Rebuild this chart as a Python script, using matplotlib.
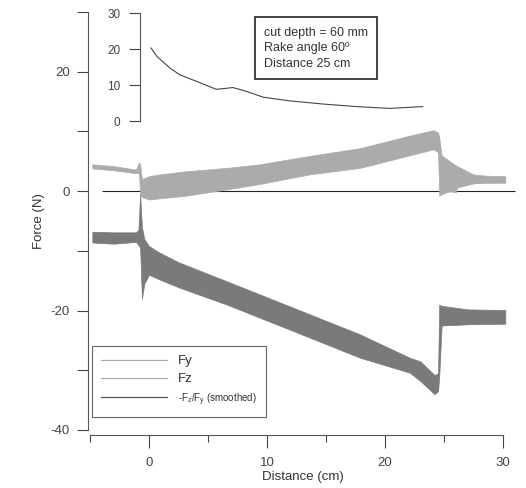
"""Cutting force traces Fy / Fz against distance, with -Fz/Fy inset."""

import matplotlib

matplotlib.use("Agg")

import matplotlib.pyplot as plt
from matplotlib.lines import Line2D

plt.rcParams["font.family"] = ["Liberation Sans", "DejaVu Sans"]
plt.rcParams["axes.unicode_minus"] = False
plt.rcParams["text.color"] = "#333333"
plt.rcParams["axes.labelcolor"] = "#333333"
plt.rcParams["xtick.color"] = "#444444"
plt.rcParams["ytick.color"] = "#444444"

# Fy trace: distance (cm), lower / upper edge of the noisy band (N)
fy_x = [-4.8, -3.0, -1.1, -0.85, -0.75, -0.6, 0.0, 0.9, 3.0, 6.6, 9.4, 13.6,
        17.9, 22.1, 24.1, 24.5, 24.6, 24.8, 25.5, 26.0, 26.1, 26.5, 27.5, 28.5, 30.2]
fy_lo = [3.8, 3.5, 3.0, 3.0, -0.5, -1.0, -1.4, -1.2, -0.8, 0.3, 1.2, 2.8,
         3.9, 6.0, 7.0, 6.5, -0.8, -0.5, 0.0, -0.2, 0.6, 0.8, 1.3, 1.4, 1.4]
fy_hi = [4.5, 4.2, 3.6, 4.8, 4.5, 2.0, 2.5, 2.8, 3.3, 3.9, 4.5, 5.9,
         7.2, 9.3, 10.2, 9.8, 9.0, 6.0, 5.0, 4.3, 4.2, 3.8, 2.8, 2.6, 2.5]

# Fz trace
fz_x = [-4.8, -3.0, -1.1, -0.9, -0.75, -0.6, -0.4, 0.0, 0.9, 2.5, 6.6, 12.2,
        17.9, 22.1, 23.0, 24.2, 24.5, 24.6, 24.8, 27.0, 30.2]
fz_lo = [-8.6, -8.8, -8.5, -9.0, -9.5, -18.0, -15.5, -14.0, -14.8, -16.1, -19.0, -23.4,
         -27.9, -30.4, -31.8, -34.0, -33.5, -31.0, -22.5, -22.3, -22.2]
fz_hi = [-6.8, -6.9, -6.9, -6.5, -0.5, -6.0, -8.0, -9.2, -10.3, -11.9, -15.1, -19.5,
         -24.0, -27.9, -28.5, -30.8, -30.5, -19.0, -19.2, -19.8, -19.9]

# inset: -Fz/Fy (smoothed)
ratio_x = [0.17, 0.65, 1.78, 2.63, 4.04, 5.7, 6.6, 7.1, 8.0, 9.7, 11.9, 14.8, 17.6, 20.4, 23.2]
ratio_y = [20.3, 18.0, 14.7, 12.8, 11.0, 8.8, 9.1, 9.3, 8.5, 6.6, 5.6, 4.7, 4.0, 3.5, 4.0]

zero_line = (-4.0, 31.0)
info_lines = ["cut depth = 60 mm", "Rake angle 60º", "Distance 25 cm"]

FY_COLOR = "#ababab"
FZ_COLOR = "#7a7a7a"

fig = plt.figure(figsize=(5.26, 4.88), dpi=100)
ax = fig.add_axes([88 / 526, 58 / 488, 429 / 526, 418 / 488])
xlim = (-5.17, 31.19)
ax.set_xlim(*xlim)
ax.set_ylim(-40, 30)

ax.hlines(0, *zero_line, color="#222222", lw=0.8, zorder=1)
ax.fill_between(fy_x, fy_lo, fy_hi, color=FY_COLOR, lw=0.5, edgecolor=FY_COLOR, zorder=2)
ax.fill_between(fz_x, fz_lo, fz_hi, color=FZ_COLOR, lw=0.5, edgecolor=FZ_COLOR, zorder=2)

for side in ("top", "right"):
    ax.spines[side].set_visible(False)
ax.spines["left"].set_bounds(-40, 30)
ax.spines["bottom"].set_bounds(-5, 30)
ax.spines["bottom"].set_position(("outward", 3.6))
for side in ("left", "bottom"):
    ax.spines[side].set_color("#555555")
    ax.spines[side].set_linewidth(0.8)

ax.set_yticks([-40, -20, 0, 20])
ax.set_yticks([-30, -10, 10, 30], minor=True)
ax.set_xticks([0, 10, 20, 30])
ax.set_xticks([-5, 5, 15, 25], minor=True)
ax.tick_params(axis="y", which="both", length=8, width=0.8, pad=5, labelsize=9.5)
ax.tick_params(axis="x", which="major", length=9, width=0.8, pad=7, labelsize=9.5)
ax.tick_params(axis="x", which="minor", length=5, width=0.8)
ax.set_xlabel("Distance (cm)", fontsize=9.5, labelpad=1)
ax.set_ylabel("Force (N)", fontsize=9.5, labelpad=4)

handles = [
    Line2D([], [], color=FY_COLOR, lw=0.9),
    Line2D([], [], color=FY_COLOR, lw=0.9),
    Line2D([], [], color="#555555", lw=0.9),
]
labels = ["Fy", "Fz", r"-F$_\mathregular{z}$/F$_\mathregular{y}$ (smoothed)"]
leg = ax.legend(handles, labels, loc="lower left", bbox_to_anchor=(0.0093, 0.031),
                borderaxespad=0, fontsize=9.5, handlelength=5.0, labelspacing=0.45,
                fancybox=False, framealpha=1, edgecolor="#666666", borderpad=0.7)
leg.get_frame().set_linewidth(0.8)
leg.get_texts()[2].set_fontsize(7)

ax.text(0.41, 0.965, "\n".join(info_lines), transform=ax.transAxes, fontsize=9,
        va="top", ha="left", linespacing=1.4,
        bbox=dict(boxstyle="square,pad=0.75", fc="white", ec="#333333", lw=1.3))

ins = fig.add_axes([88 / 526, (488 - 121) / 488, 429 / 526, 108 / 488])
ins.patch.set_visible(False)
ins.set_xlim(*xlim)
ins.set_ylim(0, 30)
ins.plot(ratio_x, ratio_y, color="#444444", lw=0.8)
for side in ("top", "right", "bottom"):
    ins.spines[side].set_visible(False)
ins.spines["left"].set_position(("data", -0.76))
ins.spines["left"].set_color("#555555")
ins.spines["left"].set_linewidth(0.8)
ins.set_xticks([])
ins.set_yticks([0, 10, 20, 30])
ins.tick_params(axis="y", length=8, width=0.8, pad=6, labelsize=8.5)

fig.savefig("out.png", dpi=100)
